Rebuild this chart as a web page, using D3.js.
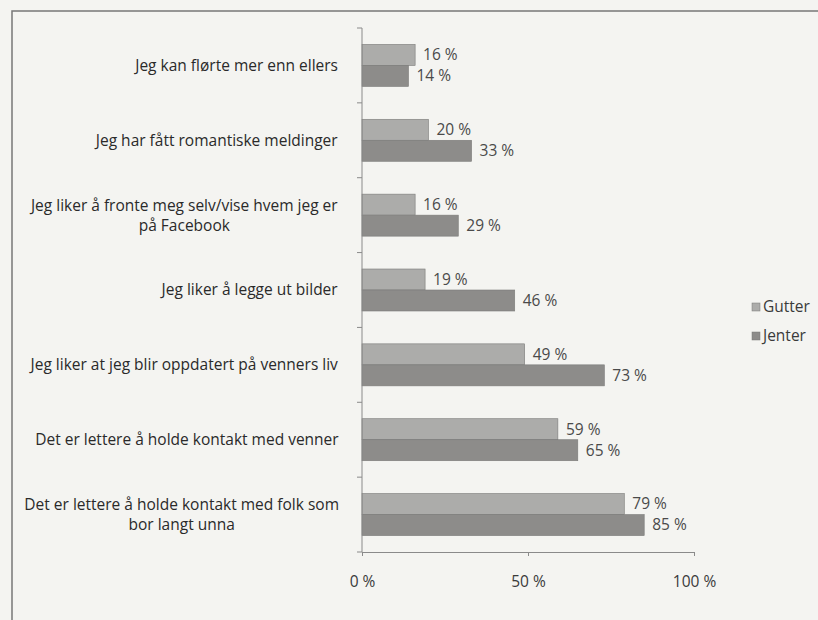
<!DOCTYPE html>
<html lang="no">
<head>
<meta charset="utf-8">
<title>Facebook</title>
<script src="https://cdn.jsdelivr.net/npm/d3@7"></script>
<style>
  body { margin: 0; background: #f4f4f1; }
  svg { display: block; font-family: "Open Sans", Lato, sans-serif; }
</style>
</head>
<body>
<script>

// categories, top to bottom
var categories = [
	["Jeg kan flørte mer enn ellers"],
	["Jeg har fått romantiske meldinger"],
	["Jeg liker å fronte meg selv/vise hvem jeg er", "på Facebook"],
	["Jeg liker å legge ut bilder"],
	["Jeg liker at jeg blir oppdatert på venners liv"],
	["Det er lettere å holde kontakt med venner"],
	["Det er lettere å holde kontakt med folk som", "bor langt unna"]
];
var gutter = [16, 20, 16, 19, 49, 59, 79];
var jenter = [14, 33, 29, 46, 73, 65, 85];
var seriesNames = ["Gutter", "Jenter"];
var seriesColors = ["#acacaa", "#8d8c8a"];
var xTicks = [0, 50, 100];

var W = 818, H = 620;
var svg = d3.select("body").append("svg").attr("width", W).attr("height", H);

// frame of the scanned chart
svg.append("path")
	.attr("d", "M12,620 L12,11 L818,11")
	.attr("fill", "none").attr("stroke", "#777").attr("stroke-width", 1.5);

var x = d3.scaleLinear().domain([0, 100]).range([362, 694]);
var y = d3.scaleBand().domain(d3.range(categories.length)).range([28, 552]);
var inner = d3.scaleBand().domain([0, 1]).range([0, 42]);

var series = [gutter, jenter];

// bars
series.forEach(function(vals, s) {
	svg.append("g").selectAll("rect").data(vals).enter()
		.append("rect")
		.attr("x", x(0))
		.attr("y", function(d, i) { return y(i) + (y.bandwidth() - 42) / 2 + inner(s); })
		.attr("width", function(d) { return x(d) - x(0); })
		.attr("height", inner.bandwidth())
		.attr("fill", seriesColors[s])
		.attr("stroke", "#7a7a78").attr("stroke-width", 0.6);

	svg.append("g").selectAll("text").data(vals).enter()
		.append("text")
		.attr("x", function(d) { return x(d) + 8; })
		.attr("y", function(d, i) { return y(i) + (y.bandwidth() - 42) / 2 + inner(s) + inner.bandwidth() / 2; })
		.attr("dy", "0.35em")
		.attr("font-size", 15.5)
		.attr("fill", "#4a4a4a")
		.text(function(d) { return d + " %"; });
});

// y axis line with ticks between categories
var yAxis = svg.append("g");
yAxis.append("line")
	.attr("x1", x(0)).attr("x2", x(0)).attr("y1", 28).attr("y2", 552)
	.attr("stroke", "#8a8a8a");
yAxis.selectAll(".tk").data(d3.range(categories.length + 1)).enter()
	.append("line")
	.attr("x1", x(0) - 5).attr("x2", x(0))
	.attr("y1", function(i) { return 28 + i * y.step(); })
	.attr("y2", function(i) { return 28 + i * y.step(); })
	.attr("stroke", "#8a8a8a");

// category labels
var lab = svg.append("g").selectAll("text").data(categories).enter()
	.append("text")
	.attr("text-anchor", "middle")
	.attr("font-size", 15.5)
	.attr("fill", "#2a2a2a");
lab.each(function(lines, i) {
	var t = d3.select(this);
	var cy = y(i) + y.bandwidth() / 2;
	lines.forEach(function(l, k) {
		t.append("tspan")
			.attr("x", 0)
			.attr("y", cy + (k - (lines.length - 1) / 2) * 20)
			.attr("dy", "0.35em")
			.text(l);
	});
	// right align the block, centre each line inside it
	var bw = this.getBBox().width;
	t.selectAll("tspan").attr("x", 339 - bw / 2);
});

// x axis
var xAxis = d3.axisBottom(x).tickValues(xTicks).tickSize(4).tickPadding(20)
	.tickFormat(function(d) { return d + " %"; });
var gx = svg.append("g").attr("transform", "translate(0,552)").call(xAxis);
gx.select(".domain").attr("stroke", "#8a8a8a");
gx.selectAll("line").attr("stroke", "#8a8a8a");
gx.selectAll("text").attr("font-size", 15.5).attr("fill", "#3a3a3a")
	.attr("font-family", "'Open Sans', sans-serif");

// legend
var leg = svg.append("g").selectAll("g").data(seriesNames).enter()
	.append("g")
	.attr("transform", function(d, i) { return "translate(752," + (303 + i * 29) + ")"; });
leg.append("rect").attr("width", 8).attr("height", 8)
	.attr("fill", function(d, i) { return seriesColors[i]; })
	.attr("stroke", "#777").attr("stroke-width", 0.5);
leg.append("text").attr("x", 11).attr("y", 4).attr("dy", "0.35em")
	.attr("font-size", 15.5).attr("fill", "#3a3a3a")
	.text(function(d) { return d; });

</script>
</body>
</html>
